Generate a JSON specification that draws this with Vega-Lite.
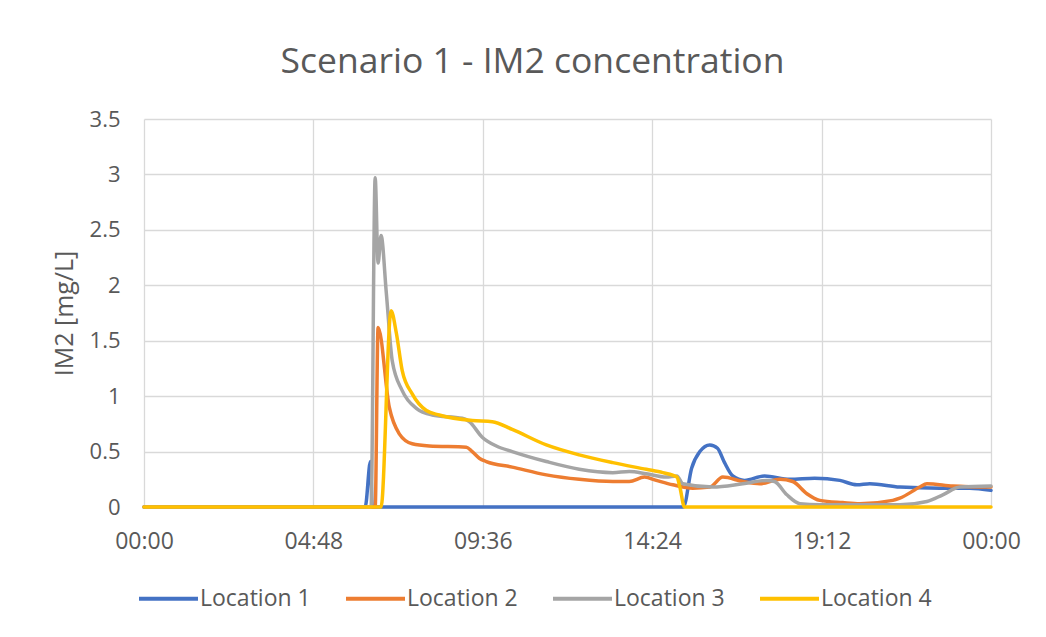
{
  "$schema": "https://vega.github.io/schema/vega-lite/v6.json",
  "autosize": {"type": "none"},
  "width": 847,
  "height": 388,
  "padding": {"left": 144, "top": 119, "right": 55, "bottom": 130},
  "background": "white",
  "title": {
    "text": "Scenario 1 - IM2 concentration",
    "font": "Open Sans",
    "fontSize": 35.5,
    "fontWeight": "normal",
    "color": "#595959",
    "anchor": "middle",
    "frame": "group",
    "offset": 28,
    "dx": -35
  },
  "config": {
    "view": {"stroke": null},
    "font": "Open Sans"
  },
  "data": {
    "values": [
      {"loc": "Location 1", "t": 0, "v": 0},
      {"loc": "Location 1", "t": 376, "v": 0},
      {"loc": "Location 1", "t": 385, "v": 0.41},
      {"loc": "Location 1", "t": 388, "v": 0},
      {"loc": "Location 1", "t": 917, "v": 0},
      {"loc": "Location 1", "t": 931, "v": 0.35},
      {"loc": "Location 1", "t": 945, "v": 0.5},
      {"loc": "Location 1", "t": 962, "v": 0.56},
      {"loc": "Location 1", "t": 975, "v": 0.53},
      {"loc": "Location 1", "t": 987, "v": 0.4},
      {"loc": "Location 1", "t": 1001, "v": 0.28},
      {"loc": "Location 1", "t": 1021, "v": 0.24},
      {"loc": "Location 1", "t": 1055, "v": 0.28},
      {"loc": "Location 1", "t": 1098, "v": 0.25},
      {"loc": "Location 1", "t": 1140, "v": 0.26},
      {"loc": "Location 1", "t": 1183, "v": 0.24},
      {"loc": "Location 1", "t": 1212, "v": 0.2},
      {"loc": "Location 1", "t": 1234, "v": 0.21},
      {"loc": "Location 1", "t": 1285, "v": 0.18},
      {"loc": "Location 1", "t": 1353, "v": 0.17},
      {"loc": "Location 1", "t": 1404, "v": 0.17},
      {"loc": "Location 1", "t": 1440, "v": 0.15},

      {"loc": "Location 2", "t": 0, "v": 0},
      {"loc": "Location 2", "t": 393, "v": 0},
      {"loc": "Location 2", "t": 398, "v": 1.62},
      {"loc": "Location 2", "t": 417, "v": 0.9},
      {"loc": "Location 2", "t": 434, "v": 0.66},
      {"loc": "Location 2", "t": 456, "v": 0.57},
      {"loc": "Location 2", "t": 485, "v": 0.55},
      {"loc": "Location 2", "t": 548, "v": 0.54},
      {"loc": "Location 2", "t": 558, "v": 0.5},
      {"loc": "Location 2", "t": 570, "v": 0.44},
      {"loc": "Location 2", "t": 582, "v": 0.41},
      {"loc": "Location 2", "t": 626, "v": 0.36},
      {"loc": "Location 2", "t": 684, "v": 0.29},
      {"loc": "Location 2", "t": 740, "v": 0.25},
      {"loc": "Location 2", "t": 797, "v": 0.23},
      {"loc": "Location 2", "t": 825, "v": 0.23},
      {"loc": "Location 2", "t": 851, "v": 0.27},
      {"loc": "Location 2", "t": 871, "v": 0.24},
      {"loc": "Location 2", "t": 899, "v": 0.2},
      {"loc": "Location 2", "t": 933, "v": 0.17},
      {"loc": "Location 2", "t": 962, "v": 0.18},
      {"loc": "Location 2", "t": 984, "v": 0.27},
      {"loc": "Location 2", "t": 1018, "v": 0.23},
      {"loc": "Location 2", "t": 1047, "v": 0.21},
      {"loc": "Location 2", "t": 1081, "v": 0.25},
      {"loc": "Location 2", "t": 1103, "v": 0.23},
      {"loc": "Location 2", "t": 1127, "v": 0.12},
      {"loc": "Location 2", "t": 1149, "v": 0.06},
      {"loc": "Location 2", "t": 1188, "v": 0.04},
      {"loc": "Location 2", "t": 1217, "v": 0.03},
      {"loc": "Location 2", "t": 1273, "v": 0.06},
      {"loc": "Location 2", "t": 1285, "v": 0.08},
      {"loc": "Location 2", "t": 1319, "v": 0.18},
      {"loc": "Location 2", "t": 1331, "v": 0.21},
      {"loc": "Location 2", "t": 1375, "v": 0.19},
      {"loc": "Location 2", "t": 1440, "v": 0.18},

      {"loc": "Location 3", "t": 0, "v": 0},
      {"loc": "Location 3", "t": 386, "v": 0},
      {"loc": "Location 3", "t": 393, "v": 2.97},
      {"loc": "Location 3", "t": 398, "v": 2.2},
      {"loc": "Location 3", "t": 403, "v": 2.45},
      {"loc": "Location 3", "t": 412, "v": 1.93},
      {"loc": "Location 3", "t": 422, "v": 1.32},
      {"loc": "Location 3", "t": 439, "v": 1.05},
      {"loc": "Location 3", "t": 463, "v": 0.89},
      {"loc": "Location 3", "t": 490, "v": 0.83},
      {"loc": "Location 3", "t": 541, "v": 0.8},
      {"loc": "Location 3", "t": 553, "v": 0.77},
      {"loc": "Location 3", "t": 575, "v": 0.63},
      {"loc": "Location 3", "t": 599, "v": 0.55},
      {"loc": "Location 3", "t": 626, "v": 0.5},
      {"loc": "Location 3", "t": 684, "v": 0.41},
      {"loc": "Location 3", "t": 740, "v": 0.34},
      {"loc": "Location 3", "t": 797, "v": 0.31},
      {"loc": "Location 3", "t": 825, "v": 0.32},
      {"loc": "Location 3", "t": 854, "v": 0.3},
      {"loc": "Location 3", "t": 888, "v": 0.27},
      {"loc": "Location 3", "t": 906, "v": 0.28},
      {"loc": "Location 3", "t": 916, "v": 0.21},
      {"loc": "Location 3", "t": 967, "v": 0.18},
      {"loc": "Location 3", "t": 1018, "v": 0.21},
      {"loc": "Location 3", "t": 1059, "v": 0.24},
      {"loc": "Location 3", "t": 1072, "v": 0.23},
      {"loc": "Location 3", "t": 1093, "v": 0.11},
      {"loc": "Location 3", "t": 1115, "v": 0.03},
      {"loc": "Location 3", "t": 1149, "v": 0.02},
      {"loc": "Location 3", "t": 1285, "v": 0.02},
      {"loc": "Location 3", "t": 1331, "v": 0.05},
      {"loc": "Location 3", "t": 1358, "v": 0.11},
      {"loc": "Location 3", "t": 1387, "v": 0.18},
      {"loc": "Location 3", "t": 1440, "v": 0.19},

      {"loc": "Location 4", "t": 0, "v": 0},
      {"loc": "Location 4", "t": 403, "v": 0},
      {"loc": "Location 4", "t": 420, "v": 1.77},
      {"loc": "Location 4", "t": 429, "v": 1.57},
      {"loc": "Location 4", "t": 439, "v": 1.23},
      {"loc": "Location 4", "t": 456, "v": 1.02},
      {"loc": "Location 4", "t": 480, "v": 0.87},
      {"loc": "Location 4", "t": 502, "v": 0.83},
      {"loc": "Location 4", "t": 558, "v": 0.78},
      {"loc": "Location 4", "t": 592, "v": 0.77},
      {"loc": "Location 4", "t": 626, "v": 0.7},
      {"loc": "Location 4", "t": 684, "v": 0.56},
      {"loc": "Location 4", "t": 740, "v": 0.47},
      {"loc": "Location 4", "t": 797, "v": 0.4},
      {"loc": "Location 4", "t": 854, "v": 0.34},
      {"loc": "Location 4", "t": 882, "v": 0.31},
      {"loc": "Location 4", "t": 906, "v": 0.27},
      {"loc": "Location 4", "t": 911, "v": 0.18},
      {"loc": "Location 4", "t": 919, "v": 0},
      {"loc": "Location 4", "t": 1440, "v": 0}
    ]
  },
  "mark": {"type": "line", "strokeWidth": 3.5, "interpolate": "monotone", "strokeJoin": "round", "strokeCap": "round"},
  "encoding": {
    "x": {
      "field": "t",
      "type": "quantitative",
      "scale": {"domain": [0, 1440], "nice": false, "zero": false},
      "axis": {
        "title": null,
        "values": [0, 288, 576, 864, 1152, 1440],
        "labelExpr": "timeFormat(datetime(2000, 0, 1, 0, datum.value), '%H:%M')",
        "grid": true,
        "gridColor": "#d9d9d9",
        "gridWidth": 1.3,
        "domainColor": "#d9d9d9",
        "domainWidth": 1.3,
        "ticks": false,
        "labelFontSize": 23,
        "labelColor": "#595959",
        "labelPadding": 23,
        "labelFont": "Open Sans",
        "labelFlush": false
      }
    },
    "y": {
      "field": "v",
      "type": "quantitative",
      "scale": {"domain": [0, 3.5], "nice": false},
      "axis": {
        "title": "IM2 [mg/L]",
        "titleFont": "Open Sans",
        "titleFontSize": 25,
        "titleFontWeight": "normal",
        "titleColor": "#595959",
        "titlePadding": 12,
        "values": [0, 0.5, 1, 1.5, 2, 2.5, 3, 3.5],
        "format": "~g",
        "grid": true,
        "gridColor": "#d9d9d9",
        "gridWidth": 1.3,
        "domain": false,
        "ticks": false,
        "labelFontSize": 22,
        "labelColor": "#595959",
        "labelPadding": 24,
        "labelFont": "Open Sans"
      }
    },
    "color": {
      "field": "loc",
      "type": "nominal",
      "scale": {
        "domain": ["Location 1", "Location 2", "Location 3", "Location 4"],
        "range": ["#4472C4", "#ED7D31", "#A5A5A5", "#FFC000"]
      },
      "legend": {
        "title": null,
        "orient": "none",
        "direction": "horizontal",
        "legendX": -7,
        "legendY": 448,
        "symbolType": "stroke",
        "symbolSize": 3481,
        "symbolStrokeWidth": 4,
        "labelFontSize": 23,
        "labelFont": "Open Sans",
        "labelColor": "#595959",
        "labelOffset": 0,
        "columnPadding": 27
      }
    }
  }
}
